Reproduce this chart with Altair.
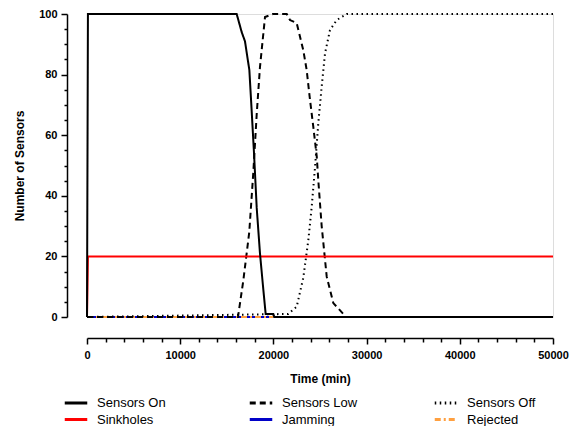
import altair as alt
import pandas as pd

# ---- data ----
on_t = [0, 100, 16060, 16600, 16950, 17420, 17670, 17920, 18210, 18560, 18920, 19170, 19990, 20100, 50000]
on_v = [0, 100, 100, 94, 91, 81.5, 68, 54, 36, 21, 9, 1, 1, 0, 0]

low_t = [0, 16200, 16770, 17410, 17840, 18210, 18560, 19100, 19960, 21430, 21780, 22500, 23210,
         23570, 23930, 24280, 24650, 24820, 25180, 25720, 26430, 27500, 27700]
low_v = [0, 0, 12, 28, 47.5, 67, 82.5, 99, 100, 100, 98, 97, 88,
         81.5, 71.6, 62.8, 53, 45, 30, 13.3, 4.6, 1, 0]

off_t = [0, 21600, 22500, 23210, 23750, 24110, 24470, 24820, 25180, 25540, 26070, 26790, 27860, 50000]
off_v = [0, 1, 3.4, 13, 25.4, 36.4, 49.6, 64, 76, 87, 94.7, 98, 100, 100]

sink_t = [0, 100, 50000]
sink_v = [0, 20, 20]

jam_t = [0, 20000]
jam_v = [0, 0]

rej_t = [0, 20000]
rej_v = [0, 0]

series_names = ["Sensors On", "Sensors Low", "Sensors Off", "Sinkholes", "Jamming", "Rejected"]
series_colors = ["#000000", "#000000", "#000000", "#ff0000", "#0000c8", "#ffa040"]
series_dashes = [[1, 0], [6, 4], [1.5, 3.5], [1, 0], [1, 0], [6, 3, 2, 3]]

# drawing order (last drawn on top)
draw_order = [("Jamming", jam_t, jam_v), ("Rejected", rej_t, rej_v), ("Sensors Off", off_t, off_v),
              ("Sensors Low", low_t, low_v), ("Sinkholes", sink_t, sink_v), ("Sensors On", on_t, on_v)]

rows = []
for name, ts, vs in draw_order:
    for t, v in zip(ts, vs):
        rows.append({"series": name, "time": t, "value": v})
df = pd.DataFrame(rows)

FONT = "Liberation Sans"

legend = alt.Legend(
    title=None, orient="none", legendX=-20, legendY=380, columns=3, direction="horizontal",
    symbolType="M-1.5,0H1.5", symbolSize=225, symbolStrokeWidth=3,
    labelFont=FONT, labelFontSize=13, labelColor="#000000", labelOffset=12,
    columnPadding=70, rowPadding=0.5, gridAlign="all", padding=0,
)

chart = alt.Chart(df).mark_line(strokeWidth=2).encode(
    x=alt.X("time:Q",
            scale=alt.Scale(domain=[0, 50000], nice=False, zero=False),
            axis=alt.Axis(
                title="Time  (min)", values=list(range(0, 50001, 2000)), format="d",
                labelExpr="datum.value % 10000 === 0 ? datum.label : ''",
                offset=21, grid=False, domainColor="#000000", domainWidth=1.5,
                tickColor="#000000", tickWidth=1.5,
                tickSize={"condition": {"test": "datum.value % 10000 !== 0", "value": 4}, "value": 6},
                labelFont=FONT, labelFontSize=11, labelFontWeight="bold", labelColor="#000000",
                labelPadding=5, labelFlush=False, labelOverlap=False,
                titleFont=FONT, titleFontSize=12, titleFontWeight="bold", titleColor="#000000",
                titlePadding=13)),
    y=alt.Y("value:Q",
            scale=alt.Scale(domain=[0, 100], nice=False),
            axis=alt.Axis(
                title="Number of Sensors", values=list(range(0, 101, 5)),
                labelExpr="datum.value % 20 === 0 ? datum.label : ''",
                offset=20, grid=False, domainColor="#000000", domainWidth=1.5,
                tickColor="#000000", tickWidth=1.5,
                tickSize={"condition": {"test": "datum.value % 20 !== 0", "value": 3}, "value": 6},
                labelFont=FONT, labelFontSize=11, labelFontWeight="bold", labelColor="#000000",
                labelPadding=4, labelFlush=False, labelOverlap=False,
                titleFont=FONT, titleFontSize=12, titleFontWeight="bold", titleColor="#000000",
                titlePadding=12)),
    color=alt.Color("series:N", scale=alt.Scale(domain=series_names, range=series_colors), legend=legend),
    strokeDash=alt.StrokeDash("series:N", scale=alt.Scale(domain=series_names, range=series_dashes), legend=legend),
).properties(
    width=466, height=303,
    autosize=alt.AutoSizeParams(type="none"),
    padding={"left": 87, "top": 14, "right": 27, "bottom": 109},
).configure_view(stroke=None).configure(background="#ffffff")

chart.save("out.html", embed_options={"renderer": "svg", "actions": False})
